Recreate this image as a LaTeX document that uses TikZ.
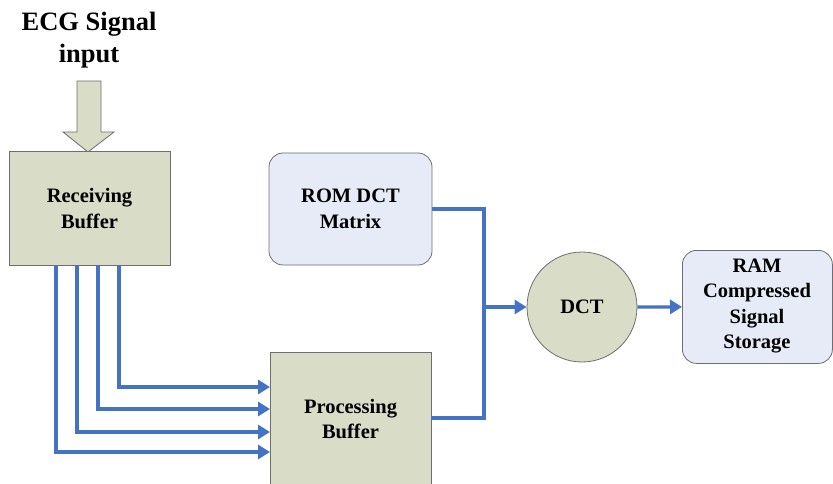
\documentclass[tikz,border=0pt]{standalone}
\usepackage{fontspec}
\setmainfont{Liberation Serif}
\usetikzlibrary{arrows.meta,calc}
\definecolor{boxgreen}{HTML}{D9DCC6}
\definecolor{boxblue}{HTML}{E7EBF8}
\definecolor{linkblue}{HTML}{4472C4}
\definecolor{edgegray}{HTML}{6E6E6E}
\tikzset{
  lbl/.style={font=\fontsize{20.5}{25.5}\selectfont\bfseries, align=center, text=black},
  greenbox/.style={draw=edgegray, line width=1pt, fill=boxgreen},
  bluebox/.style={draw=edgegray, line width=0.8pt, fill=boxblue, rounded corners=14pt},
  link/.style={draw=linkblue, line width=3.2pt, -{Triangle[length=12pt,width=14pt]}},
  plainlink/.style={draw=linkblue, line width=3.2pt},
}
\begin{document}
\begin{tikzpicture}[x=1pt,y=-1pt]
\useasboundingbox (0,0) rectangle (833,484);
\clip (0,0) rectangle (833,484);
% title
\node[lbl, font=\fontsize{26.5}{32}\selectfont\bfseries] (title) at (89,40) {ECG Signal\\input};
% input block arrow
\draw[draw=edgegray, line width=0.8pt, fill=boxgreen]
  (77,81) -- (101,81) -- (101,132) -- (114,132) -- (88,152) -- (63,132) -- (77,132) -- cycle;
% receiving buffer
\node[greenbox, minimum width=161pt, minimum height=113pt, inner sep=0pt] (rb) at (89.5,208.5) {};
\node[lbl] (rbt) at (rb.center) {Receiving\\Buffer};
% processing buffer
\node[greenbox, minimum width=161pt, minimum height=140pt, inner sep=0pt, anchor=north west] (pb) at (270,352) {};
\node[lbl] (pbt) at (350.5,419) {Processing\\Buffer};
% ROM
\node[bluebox, minimum width=163pt, minimum height=112pt, inner sep=0pt] (rom) at (350.5,209) {};
\node[lbl] (romt) at (rom.center) {ROM DCT\\Matrix};
% DCT
\node[draw=edgegray, line width=0.8pt, fill=boxgreen, circle, minimum size=110pt, inner sep=0pt] (dct) at (582,307) {};
\node[lbl] (dctt) at (dct.center) {DCT};
% RAM
\node[bluebox, minimum width=150pt, minimum height=113pt, inner sep=0pt, anchor=north west] (ram) at (682,250) {};
\node[lbl] (ramt) at (757,306) {RAM\\Compressed\\Signal\\Storage};
% coordinates
\coordinate (j) at (484,307);
% links from receiving buffer to processing buffer
\draw[link] (56,265) |- (270,452);
\draw[link] (77,265) |- (270,432);
\draw[link] (98,265) |- (270,409);
\draw[link] (119,265) |- (270,387);
% ROM and processing buffer to DCT
\draw[plainlink] (rom.east) -| (j);
\draw[plainlink] (431,418) -| (j);
\draw[link] (j) -- (dct.west);
\draw[link] (dct.east) -- (ram.west);
\end{tikzpicture}
\end{document}
